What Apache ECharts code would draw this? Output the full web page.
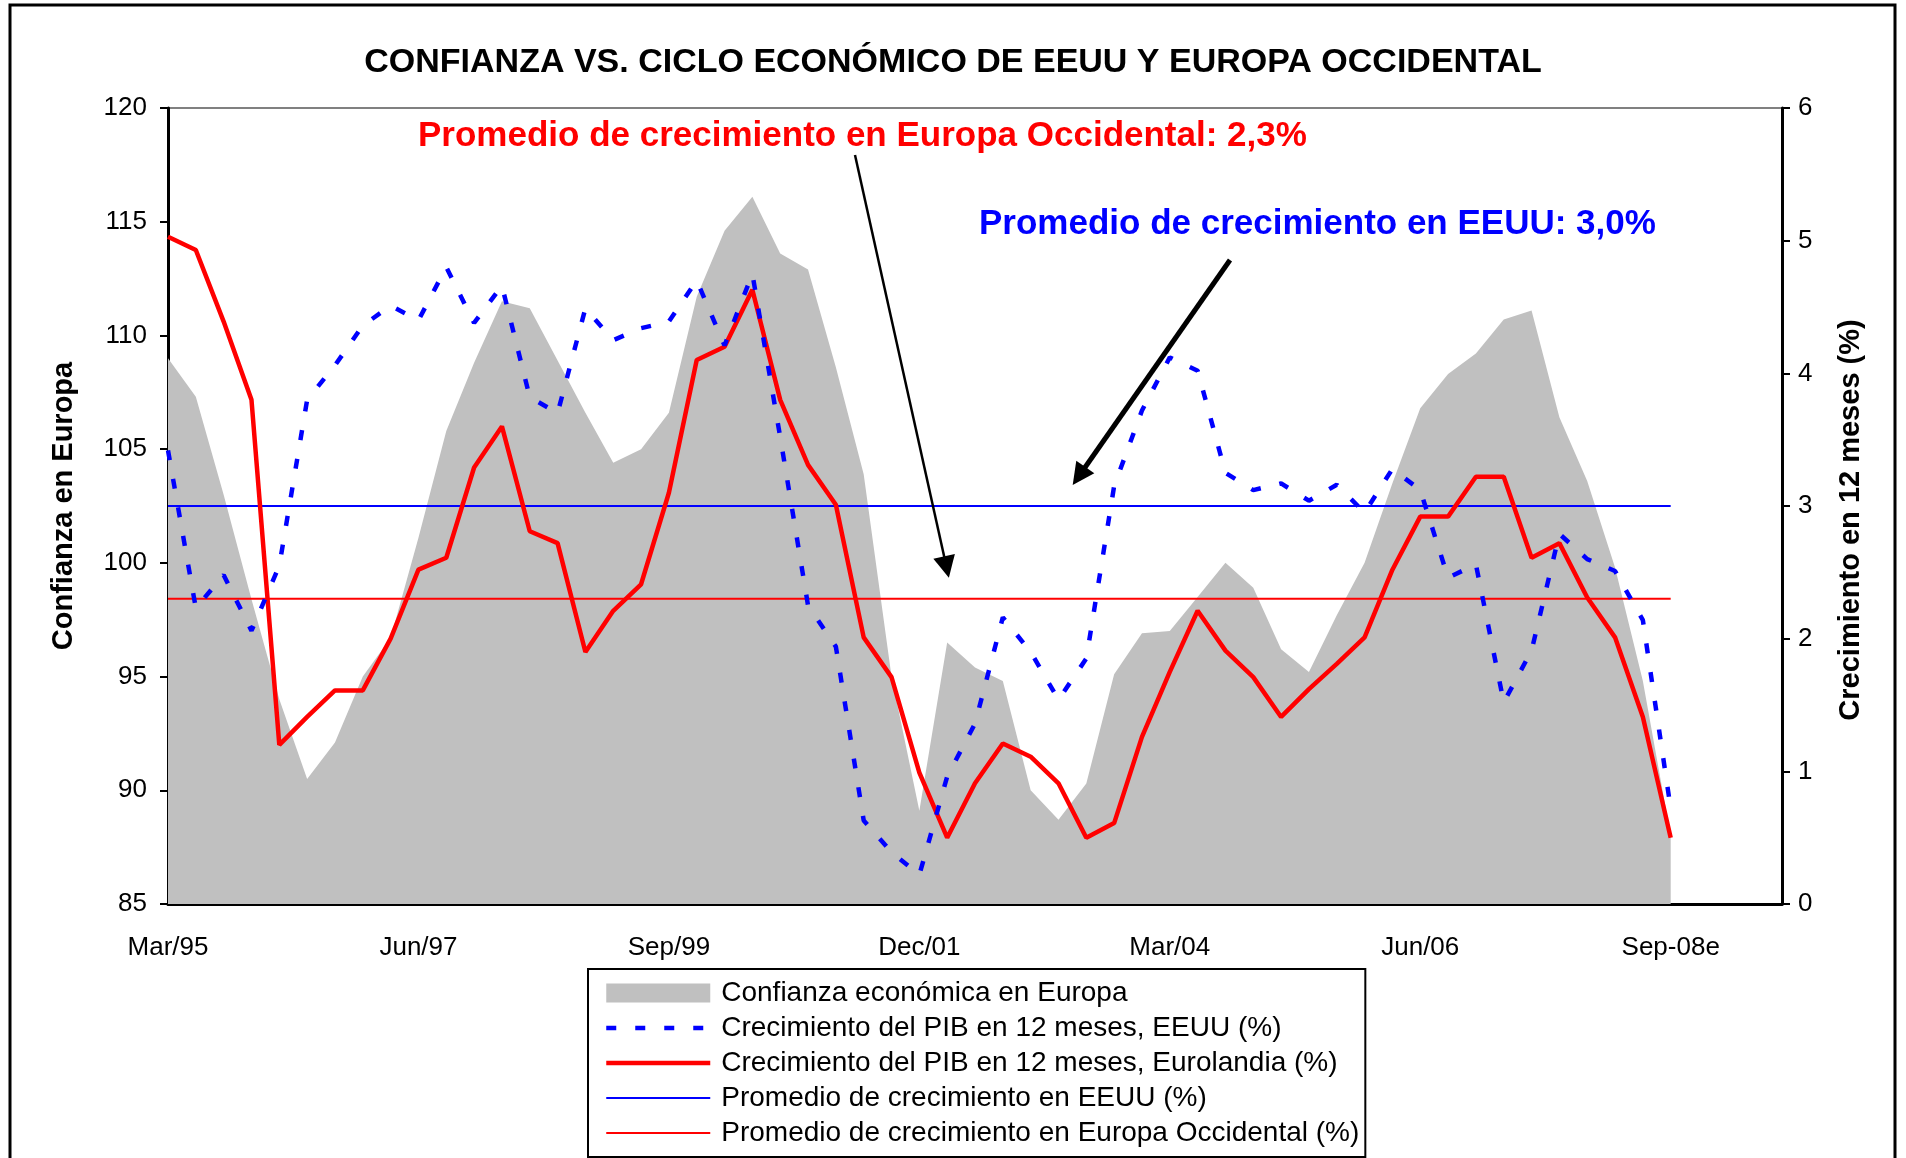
<!DOCTYPE html>
<html><head><meta charset="utf-8">
<script src="https://cdn.jsdelivr.net/npm/echarts@6/dist/echarts.min.js"></script>
<style>html,body{margin:0;padding:0;background:#fff}#c{width:1906px;height:1158px}</style>
</head><body><div id="c"></div>
<script>
const categories = ['Mar/95','Jun/95','Sep/95','Dec/95','Mar/96','Jun/96','Sep/96','Dec/96','Mar/97','Jun/97','Sep/97','Dec/97',
  'Mar/98','Jun/98','Sep/98','Dec/98','Mar/99','Jun/99','Sep/99','Dec/99','Mar/00','Jun/00','Sep/00','Dec/00',
  'Mar/01','Jun/01','Sep/01','Dec/01','Mar/02','Jun/02','Sep/02','Dec/02','Mar/03','Jun/03','Sep/03','Dec/03',
  'Mar/04','Jun/04','Sep/04','Dec/04','Mar/05','Jun/05','Sep/05','Dec/05','Mar/06','Jun/06','Sep/06','Dec/06',
  'Mar/07','Jun/07','Sep/07','Dec/07','Mar/08','Jun/08','Sep-08e','Dec-08e','Mar-09e','Jun-09e','Sep-09e'];
const tickLabels = ['Mar/95','Jun/97','Sep/99','Dec/01','Mar/04','Jun/06','Sep-08e'];
const confianza = [109.0,107.3,103.0,98.4,94.0,90.5,92.1,95.0,96.7,101.1,
  105.8,108.8,111.5,111.2,108.9,106.6,104.4,105.0,106.6,111.7,
  114.6,116.1,113.6,112.9,108.6,103.9,95.0,89.1,96.5,95.4,
  94.8,90.0,88.7,90.3,95.1,96.9,97.0,98.5,100.0,98.9,
  96.2,95.2,97.7,100.0,103.5,106.8,108.3,109.2,110.7,111.1,
  106.4,103.6,99.8,94.8,88.0];
const pibEEUU = [3.42,2.23,2.48,2.06,2.55,3.80,4.06,4.36,4.51,4.40,
  4.80,4.38,4.66,3.82,3.70,4.49,4.25,4.34,4.39,4.70,
  4.21,4.75,3.52,2.25,1.94,0.63,0.39,0.22,0.96,1.36,
  2.16,1.90,1.54,1.85,3.15,3.72,4.12,4.02,3.25,3.12,
  3.17,3.04,3.16,2.95,3.28,3.12,2.46,2.56,1.52,1.91,
  2.79,2.60,2.51,2.14,0.72];
const pibEuro = [5.03,4.93,4.39,3.80,1.20,1.41,1.61,1.61,2.00,2.52,
  2.61,3.29,3.60,2.81,2.72,1.90,2.21,2.41,3.10,4.10,
  4.20,4.63,3.80,3.31,3.01,2.01,1.71,0.99,0.50,0.91,
  1.21,1.11,0.91,0.50,0.61,1.26,1.75,2.21,1.91,1.71,
  1.41,1.62,1.81,2.01,2.52,2.92,2.92,3.22,3.22,2.61,
  2.72,2.31,2.01,1.41,0.50];
const promedioEEUU = 3.0;
const promedioEuropa = 2.3;
const firstCat = 'Mar/95';
const lastCat = 'Sep-08e';

const FONT = 'Arial, "Liberation Sans", sans-serif';
const names = {
  conf: 'Confianza económica en Europa',
  us: 'Crecimiento del PIB en 12 meses, EEUU (%)',
  eu: 'Crecimiento del PIB en 12 meses, Eurolandia (%)',
  avgUS: 'Promedio de crecimiento en EEUU (%)',
  avgEU: 'Promedio de crecimiento en Europa Occidental (%)'
};
const chart = echarts.init(document.getElementById('c'), null, {renderer: 'canvas'});
const hideSym = {color: 'rgba(0,0,0,0)', borderWidth: 0};
chart.setOption({
  animation: false,
  backgroundColor: '#fff',
  textStyle: {fontFamily: FONT},
  title: {
    text: 'CONFIANZA VS. CICLO ECONÓMICO DE EEUU Y EUROPA OCCIDENTAL',
    left: 'center', top: 41,
    textStyle: {fontSize: 34, fontWeight: 'bold', color: '#000', fontFamily: FONT}
  },
  grid: {left: 168, right: 124, top: 108, bottom: 254, show: true,
    borderColor: '#808080', borderWidth: 2, backgroundColor: 'transparent'},
  legend: {
    orient: 'vertical', left: 588, top: 969,
    itemWidth: 104, itemHeight: 19, itemGap: 7,
    padding: [10, 6, 10, 16],
    borderColor: '#000', borderWidth: 2, backgroundColor: '#fff',
    selectedMode: false,
    lineStyle: {width: 'inherit', type: 'inherit'},
    textStyle: {fontSize: 28, color: '#000', fontFamily: FONT, lineHeight: 28, padding: [0, 0, 0, 6]},
    data: [
      {name: names.conf, icon: 'rect', itemStyle: {color: '#C0C0C0'}},
      {name: names.us, itemStyle: hideSym},
      {name: names.eu, itemStyle: hideSym},
      {name: names.avgUS, itemStyle: hideSym},
      {name: names.avgEU, itemStyle: hideSym}
    ]
  },
  xAxis: {
    type: 'category', data: categories, boundaryGap: false,
    axisLine: {onZero: false, lineStyle: {color: '#000', width: 3}},
    axisTick: {show: false},
    splitLine: {show: false},
    axisLabel: {interval: 0, margin: 31, fontSize: 26, color: '#000', fontFamily: FONT,
      formatter: v => tickLabels.includes(v) ? v : ''}
  },
  yAxis: [
    {type: 'value', position: 'left', min: 85, max: 120, interval: 5,
     name: 'Confianza en Europa', nameLocation: 'middle', nameRotate: 90, nameGap: 90,
     nameTextStyle: {fontSize: 29, fontWeight: 'bold', color: '#000', fontFamily: FONT},
     axisLine: {show: true, lineStyle: {color: '#000', width: 3}},
     axisTick: {show: true, length: 8, lineStyle: {color: '#000', width: 2}},
     axisLabel: {fontSize: 26, color: '#000', margin: 21, fontFamily: FONT},
     splitLine: {show: false}},
    {type: 'value', position: 'right', min: 0, max: 6, interval: 1,
     name: 'Crecimiento en 12 meses (%)', nameLocation: 'middle', nameRotate: 90, nameGap: 54,
     nameTextStyle: {fontSize: 29, fontWeight: 'bold', color: '#000', fontFamily: FONT, padding: [0, 28, 0, 0]},
     axisLine: {show: true, lineStyle: {color: '#000', width: 3}},
     axisTick: {show: true, length: 8, lineStyle: {color: '#000', width: 2}},
     axisLabel: {fontSize: 26, color: '#000', margin: 16, fontFamily: FONT},
     splitLine: {show: false}}
  ],
  series: [
    {name: names.conf, type: 'line', yAxisIndex: 0, data: confianza, symbol: 'none',
     color: '#C0C0C0', lineStyle: {width: 0}, itemStyle: {color: '#C0C0C0'},
     areaStyle: {color: '#C0C0C0', opacity: 1, origin: 'start'}, silent: true, z: 1,
     markLine: {
       silent: true, symbol: ['none', 'triangle'], symbolSize: [22, 22],
       label: {show: false},
       lineStyle: {color: '#000', width: 2.5, type: 'solid'},
       emphasis: {disabled: true},
       data: [
         [{x: 855, y: 155}, {x: 946.5, y: 567}],
         [{x: 1230, y: 260, lineStyle: {width: 5, color: '#000', type: 'solid'}}, {x: 1079, y: 476}]
       ]
     }},
    {name: names.avgUS, type: 'line', yAxisIndex: 1, symbol: 'none', z: 2,
     data: [[firstCat, promedioEEUU], [lastCat, promedioEEUU]],
     color: '#0000FF', lineStyle: {color: '#0000FF', width: 2}},
    {name: names.avgEU, type: 'line', yAxisIndex: 1, symbol: 'none', z: 2,
     data: [[firstCat, promedioEuropa], [lastCat, promedioEuropa]],
     color: '#FF0000', lineStyle: {color: '#FF0000', width: 2}},
    {name: names.eu, type: 'line', yAxisIndex: 1, symbol: 'none', z: 3,
     data: pibEuro, color: '#FF0000', lineStyle: {color: '#FF0000', width: 4.5}},
    {name: names.us, type: 'line', yAxisIndex: 1, symbol: 'none', z: 4,
     data: pibEEUU, color: '#0000FF', lineStyle: {color: '#0000FF', width: 4.5, type: [10, 19]}}
  ],
  graphic: [
    {type: 'rect', silent: true, z: 100, shape: {x: 10, y: 5, width: 1885, height: 1200},
     style: {fill: 'none', stroke: '#000', lineWidth: 3}},
    {type: 'text', left: 418, top: 119, z: 50, silent: true,
     style: {text: 'Promedio de crecimiento en Europa Occidental: 2,3%', fill: '#FF0000',
       font: 'bold 35px ' + FONT}},
    {type: 'text', left: 979, top: 207, z: 50, silent: true,
     style: {text: 'Promedio de crecimiento en EEUU: 3,0%', fill: '#0000FF',
       font: 'bold 35px ' + FONT}}
  ]
});
</script></body></html>
